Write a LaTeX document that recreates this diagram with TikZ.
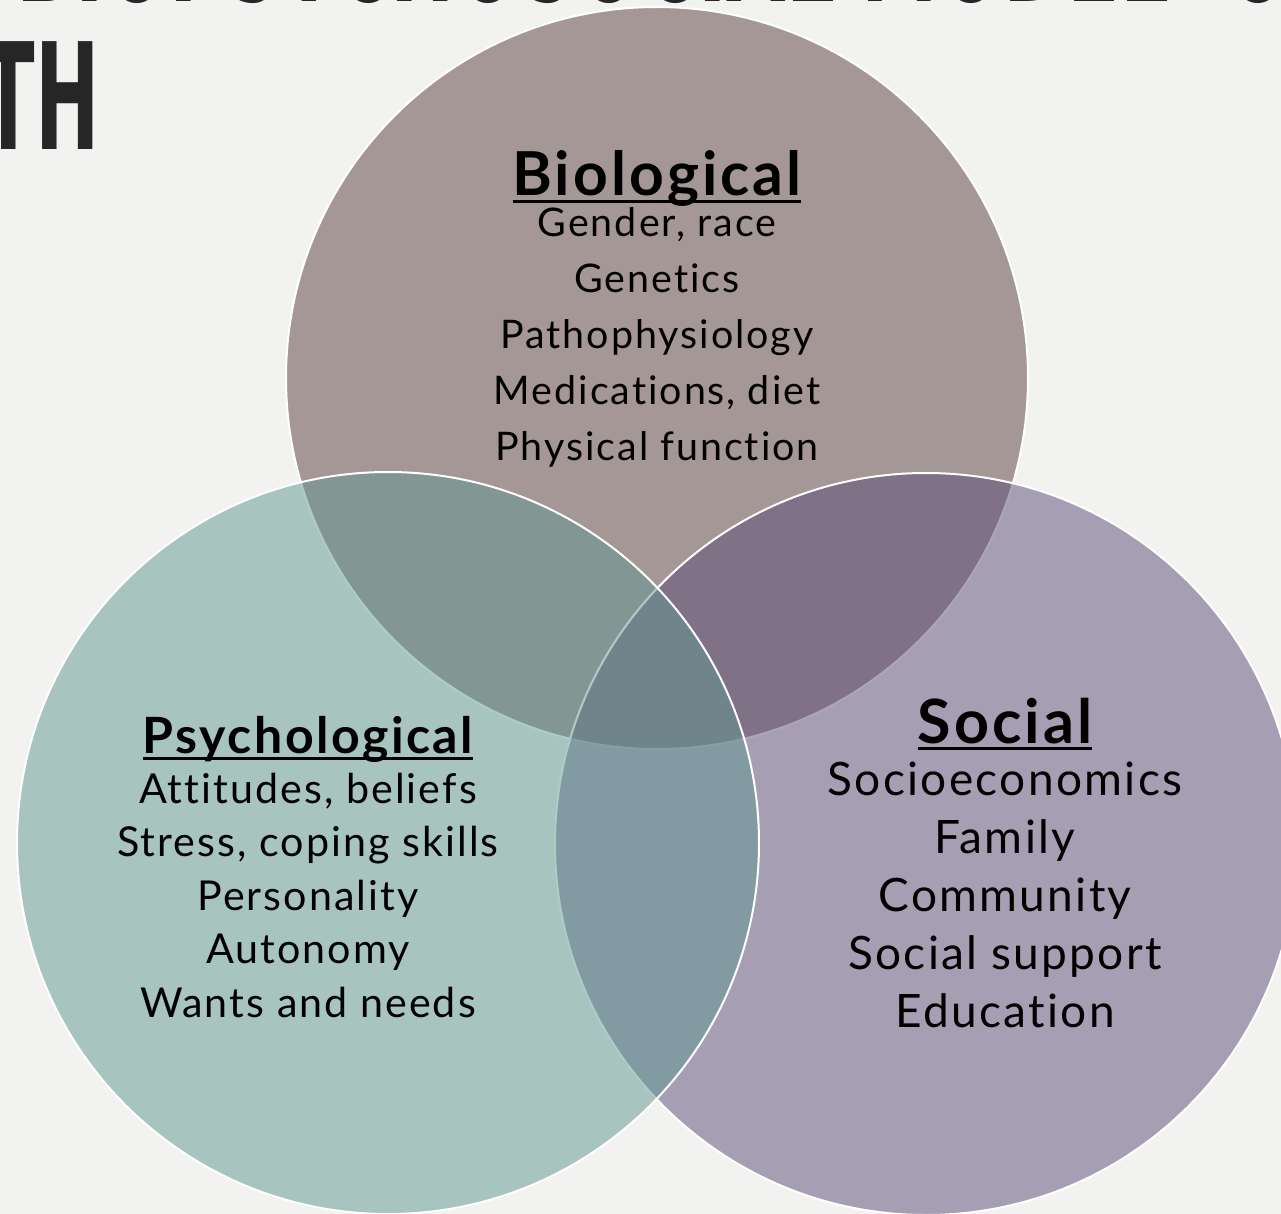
\documentclass[tikz,border=0pt]{standalone}
\usepackage{fontspec}
\setmainfont{Lato}[LetterSpace=5, Ligatures=NoCommon]
\newfontfamily\slidefont{DejaVu Sans}
\definecolor{paper}{RGB}{242,242,240}
\definecolor{titleink}{RGB}{38,38,38}
\definecolor{vennBio}{RGB}{166,151,151}
\definecolor{vennSoc}{RGB}{92,76,120}
\definecolor{vennPsy}{RGB}{96,152,144}
\tikzstyle{circ}=[draw=white, line width=1pt]
\tikzstyle{head}=[anchor=base, inner sep=0pt]
\tikzstyle{item}=[anchor=base, inner sep=0pt]
\tikzstyle{slide}=[anchor=base, inner sep=0pt, text=titleink, font=\slidefont\bfseries\fontsize{74}{74}\selectfont]
% heading with a rule through the descenders
\newcommand\venntitle[1]{\setbox0\hbox{#1}\rlap{\rule[-3.3pt]{\wd0}{1.4pt}}\box0}
\newcommand\squeeze[1]{\scalebox{0.52}[1]{#1}}

\begin{document}
\begin{tikzpicture}[x=0.5pt, y=-0.5pt]
				\useasboundingbox (0,0) rectangle (1281,1214);
				\clip (0,0) rectangle (1281,1214);
				\fill[paper] (0,0) rectangle (1281,1214);

				% slide title, cut by the frame
				\node[slide, anchor=base east] (titleA) at (1170,2) {\squeeze{BIOPSYCHOSOCIAL MODEL}};
				\node[slide, anchor=base west] (titleB) at (1225,2) {\squeeze{OF}};
				\node[slide, anchor=base east] (titleC) at (100,150) {\squeeze{HEALTH}};

				\coordinate (bio) at (657,378);
				\coordinate (psy) at (388,843);
				\coordinate (soc) at (926,844);

				\fill[vennBio, circ] (bio) circle (185.5pt);
				\fill[vennSoc, circ, fill opacity=0.5] (soc) circle (185.5pt);
				\fill[vennPsy, circ, fill opacity=0.5] (psy) circle (185.5pt);

				\node[head, font=\bfseries\fontsize{30.3}{30}\selectfont] (bioHead) at (657,196) {\venntitle{Biological}};
				\foreach \t [count=\i] in {{Gender, race}, Genetics, Pathophysiology, {Medications, diet}, Physical function}
					\node[item, font=\fontsize{19.7}{20}\selectfont] (bio\i) at (657,{237+55.8*(\i-1)}) {\t};

				\node[head, font=\bfseries\fontsize{25}{25}\selectfont] (psyHead) at (308,753) {\venntitle{Psychological}};
				\foreach \t [count=\i] in {{Attitudes, beliefs}, {Stress, coping skills}, Personality, Autonomy, Wants and needs}
					\node[item, font=\fontsize{20.6}{20}\selectfont] (psy\i) at (308,{803+53.5*(\i-1)}) {\t};

				\node[head, font=\bfseries\fontsize{30.5}{30}\selectfont] (socHead) at (1005,743) {\venntitle{Social}};
				\foreach \t [count=\i] in {Socioeconomics, Family, Community, Social support, Education}
					\node[item, font=\fontsize{23}{23}\selectfont] (soc\i) at (1005,{795+58*(\i-1)}) {\t};
			\end{tikzpicture}
\end{document}
